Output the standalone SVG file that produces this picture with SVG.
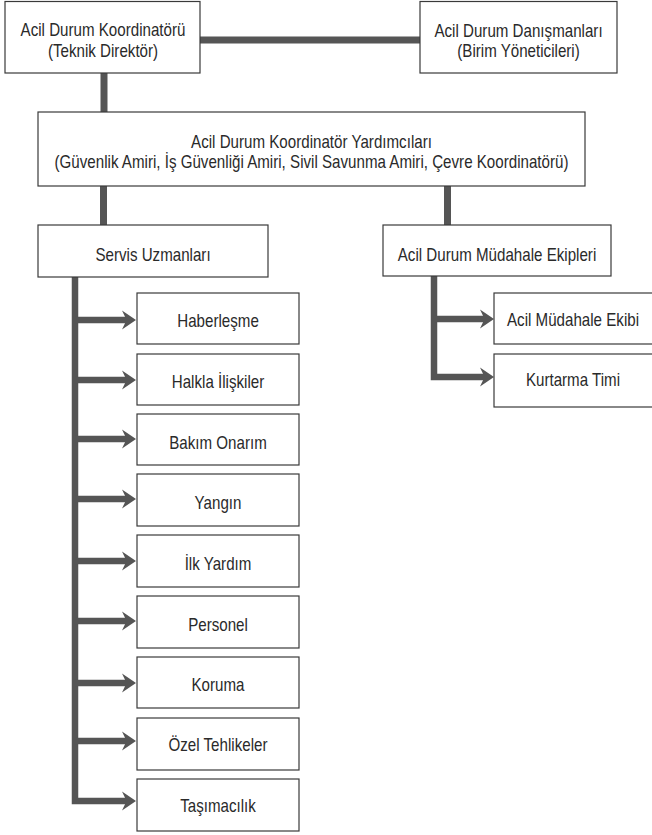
<svg xmlns="http://www.w3.org/2000/svg" width="652" height="835" viewBox="0 0 652 835">
  <style>
    .box { fill: #ffffff; stroke: #3a3a3a; stroke-width: 1.2; }
    .lbl { font-family: "Liberation Sans", Arial, Helvetica, sans-serif; font-size: 17.5px; fill: #2a2a2a; text-anchor: middle; }
    .bar { fill: none; stroke: #555555; stroke-width: 7; stroke-linecap: butt; stroke-linejoin: miter; }
    .arr { fill: none; stroke: #555555; stroke-width: 6.5; stroke-linecap: butt; stroke-linejoin: miter; marker-end: url(#head); }
  </style>
  <defs>
    <marker id="head" markerUnits="userSpaceOnUse" orient="auto" refX="0" refY="0" markerWidth="20" markerHeight="20" overflow="visible">
      <path d="M -8 -9.5 L 6 0 L -8 9.5 L -5 3.25 L -5 -3.25 Z" fill="#555555"/>
    </marker>
  </defs>
  <rect width="652" height="835" fill="#ffffff"/>

  <!-- connectors -->
  <g id="connectors">
    <line class="bar" x1="200" y1="40" x2="420" y2="40"/>
    <line class="bar" x1="104" y1="73" x2="104" y2="112"/>
    <line class="bar" x1="103.5" y1="186" x2="103.5" y2="225"/>
    <line class="bar" x1="447.5" y1="186" x2="447.5" y2="225"/>

    <!-- service specialists branch -->
    <path class="arr" d="M 75 277 V 801 H 130"/>
    <line class="arr" x1="75" y1="320" x2="130" y2="320"/>
    <line class="arr" x1="75" y1="380" x2="130" y2="380"/>
    <line class="arr" x1="75" y1="439" x2="130" y2="439"/>
    <line class="arr" x1="75" y1="499" x2="130" y2="499"/>
    <line class="arr" x1="75" y1="561" x2="130" y2="561"/>
    <line class="arr" x1="75" y1="621" x2="130" y2="621"/>
    <line class="arr" x1="75" y1="683" x2="130" y2="683"/>
    <line class="arr" x1="75" y1="741" x2="130" y2="741"/>

    <!-- response teams branch -->
    <path class="arr" d="M 434 276 V 377 H 488"/>
    <line class="arr" x1="434" y1="319" x2="488" y2="319"/>
  </g>

  <g id="coordinator">
    <rect class="box" x="5" y="1.5" width="195" height="71.5"/>
    <text class="lbl" transform="translate(103 36) scale(0.865 1)">Acil Durum Koordinatörü</text>
    <text class="lbl" transform="translate(103 57) scale(0.865 1)">(Teknik Direktör)</text>
  </g>

  <g id="advisors">
    <rect class="box" x="420" y="1.5" width="197" height="71.5"/>
    <text class="lbl" transform="translate(518.5 37) scale(0.865 1)">Acil Durum Danışmanları</text>
    <text class="lbl" transform="translate(518.5 57) scale(0.865 1)">(Birim Yöneticileri)</text>
  </g>

  <g id="deputies">
    <rect class="box" x="38" y="112" width="547" height="74"/>
    <text class="lbl" transform="translate(311.5 147.5) scale(0.865 1)">Acil Durum Koordinatör Yardımcıları</text>
    <text class="lbl" transform="translate(311.5 167.5) scale(0.865 1)">(Güvenlik Amiri, İş Güvenliği Amiri, Sivil Savunma Amiri, Çevre Koordinatörü)</text>
  </g>

  <g id="service-specialists">
    <rect class="box" x="38" y="225" width="230" height="52"/>
    <text class="lbl" transform="translate(153 260.5) scale(0.865 1)">Servis Uzmanları</text>
  </g>

  <g id="response-teams">
    <rect class="box" x="383" y="225" width="228" height="51"/>
    <text class="lbl" transform="translate(497 260.5) scale(0.865 1)">Acil Durum Müdahale Ekipleri</text>
  </g>

  <g id="communication">
    <rect class="box" x="137" y="293" width="162" height="51"/>
    <text class="lbl" transform="translate(218 327) scale(0.865 1)">Haberleşme</text>
  </g>
  <g id="public-relations">
    <rect class="box" x="137" y="354" width="162" height="51"/>
    <text class="lbl" transform="translate(218 388) scale(0.865 1)">Halkla İlişkiler</text>
  </g>
  <g id="maintenance">
    <rect class="box" x="137" y="414" width="162" height="51"/>
    <text class="lbl" transform="translate(218 449) scale(0.865 1)">Bakım Onarım</text>
  </g>
  <g id="fire">
    <rect class="box" x="137" y="474" width="162" height="52"/>
    <text class="lbl" transform="translate(218 509) scale(0.865 1)">Yangın</text>
  </g>
  <g id="first-aid">
    <rect class="box" x="137" y="535" width="162" height="52"/>
    <text class="lbl" transform="translate(218 570) scale(0.865 1)">İlk Yardım</text>
  </g>
  <g id="personnel">
    <rect class="box" x="137" y="596" width="162" height="52"/>
    <text class="lbl" transform="translate(218 631) scale(0.865 1)">Personel</text>
  </g>
  <g id="protection">
    <rect class="box" x="137" y="657" width="162" height="51"/>
    <text class="lbl" transform="translate(218 691) scale(0.865 1)">Koruma</text>
  </g>
  <g id="special-hazards">
    <rect class="box" x="137" y="718" width="162" height="52"/>
    <text class="lbl" transform="translate(218 751) scale(0.865 1)">Özel Tehlikeler</text>
  </g>
  <g id="transport">
    <rect class="box" x="137" y="779" width="162" height="52"/>
    <text class="lbl" transform="translate(218 812) scale(0.865 1)">Taşımacılık</text>
  </g>

  <g id="emergency-response-team">
    <rect class="box" x="494" y="293" width="162" height="51"/>
    <text class="lbl" transform="translate(573 326) scale(0.865 1)">Acil Müdahale Ekibi</text>
  </g>
  <g id="rescue-team">
    <rect class="box" x="494" y="354" width="162" height="53"/>
    <text class="lbl" transform="translate(573 386) scale(0.865 1)">Kurtarma Timi</text>
  </g>
</svg>
